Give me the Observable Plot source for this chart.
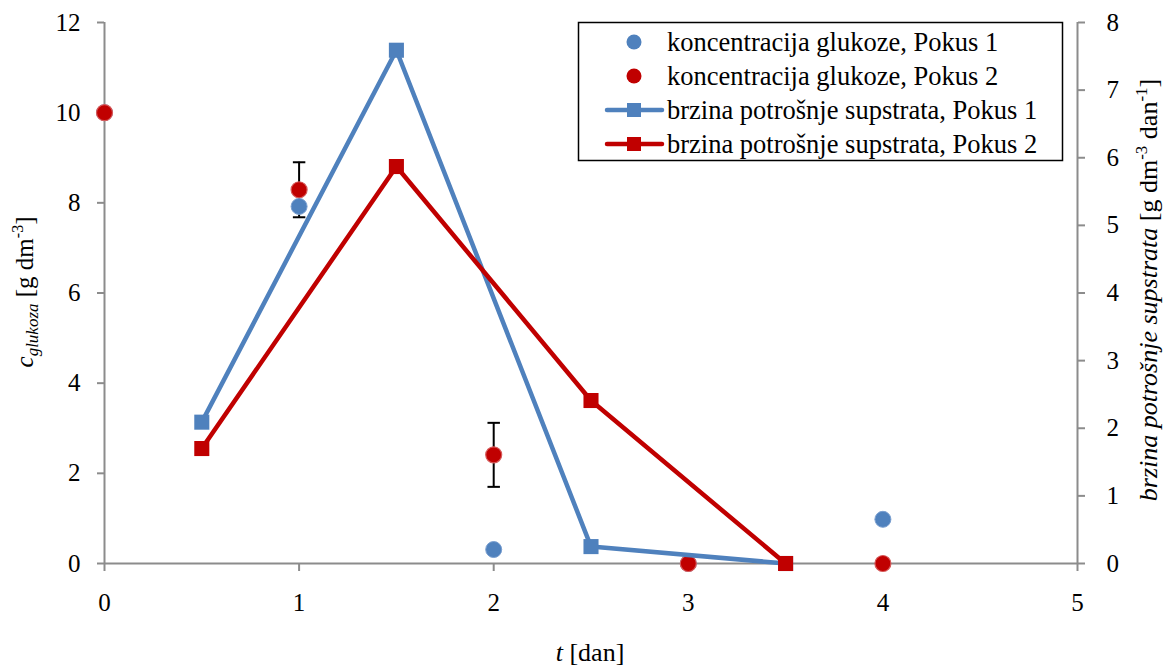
<!DOCTYPE html>
<html>
<head>
<meta charset="utf-8">
<script src="https://cdn.jsdelivr.net/npm/d3@7"></script>
<script src="https://cdn.jsdelivr.net/npm/@observablehq/plot@0.6"></script>
<style>
  html, body { margin: 0; padding: 0; background: #fff; }
  #chart { width: 1169px; height: 668px; }
  #chart svg, #chart svg text { font-family: "Liberation Serif", "DejaVu Serif", serif !important; }
</style>
</head>
<body>
<div id="chart"></div>
<script>
// ---- data ----
const days = [0, 1, 2, 3, 4];
const gluc1 = [10, 7.92, 0.31, 0, 0.98];
const gluc2 = [10, 8.29, 2.41, 0, 0];
const gluc2Err = [0, 0.61, 0.71, 0, 0];
const rateDays = [0.5, 1.5, 2.5, 3.5];
const rate1 = [2.09, 7.59, 0.25, 0];
const rate2 = [1.70, 5.87, 2.41, 0];
const xTicks = [0, 1, 2, 3, 4, 5];
const yLeftTicks = [0, 2, 4, 6, 8, 10, 12];
const yRightTicks = [0, 1, 2, 3, 4, 5, 6, 7, 8];
const seriesNames = [
  "koncentracija glukoze, Pokus 1",
  "koncentracija glukoze, Pokus 2",
  "brzina potrošnje supstrata, Pokus 1",
  "brzina potrošnje supstrata, Pokus 2"
];

const BLUE = "#4f81bd";
const RED = "#c00000";
const AXIS = "#8c8c8c";
const FONT = "Liberation Serif, DejaVu Serif, serif";
const leftMax = 12, rightMax = 8, k = leftMax / rightMax;

const g1 = days.map((d, i) => ({x: d, y: gluc1[i]}));
const g2 = days.map((d, i) => ({x: d, y: gluc2[i], e: gluc2Err[i]}));
const r1 = rateDays.map((d, i) => ({x: d, y: rate1[i] * k}));
const r2 = rateDays.map((d, i) => ({x: d, y: rate2[i] * k}));
const errs = g2.filter(d => d.e > 0);
const capHalf = 0.032;

const axisCommon = {stroke: AXIS, strokeWidth: 2, label: null, fontSize: 25, fill: "#000", fontFamily: FONT};

const plot = Plot.plot({
  width: 1169,
  height: 668,
  marginLeft: 104,
  marginRight: 92,
  marginTop: 22,
  marginBottom: 105,
  style: {fontFamily: FONT, fontSize: "25px", color: "#000", background: "#fff"},
  x: {domain: [0, 5]},
  y: {domain: [0, leftMax]},
  marks: [
    Plot.axisX({...axisCommon, ticks: xTicks, tickFormat: d => String(d), tickSize: 8, tickPadding: 22}),
    Plot.axisY({...axisCommon, anchor: "left", ticks: yLeftTicks, tickFormat: d => String(d), tickSize: 7, tickPadding: 17}),
    Plot.axisY({...axisCommon, anchor: "right", ticks: yRightTicks.map(v => v * k), tickFormat: d => String(Math.round(d / k)), tickSize: 7, tickPadding: 22}),
    Plot.ruleX([0, 5], {stroke: AXIS, strokeWidth: 2}),
    Plot.ruleY([0], {stroke: AXIS, strokeWidth: 2}),
    // error bars
    Plot.ruleX(errs, {x: "x", y1: d => d.y - d.e, y2: d => d.y + d.e, stroke: "#000", strokeWidth: 2}),
    Plot.link(errs, {x1: d => d.x - capHalf, x2: d => d.x + capHalf, y1: d => d.y + d.e, y2: d => d.y + d.e, stroke: "#000", strokeWidth: 2}),
    Plot.link(errs, {x1: d => d.x - capHalf, x2: d => d.x + capHalf, y1: d => d.y - d.e, y2: d => d.y - d.e, stroke: "#000", strokeWidth: 2}),
    // glucose points
    Plot.dot(g1, {x: "x", y: "y", r: 8, fill: BLUE, stroke: "#7a9fd0", strokeWidth: 1}),
    Plot.dot(g2, {x: "x", y: "y", r: 8, fill: RED, stroke: "#d65a5a", strokeWidth: 1.2}),
    // rate lines
    Plot.line(r1, {x: "x", y: "y", stroke: BLUE, strokeWidth: 4.5}),
    Plot.dot(r1, {x: "x", y: "y", symbol: "square", r: 8.5, fill: BLUE, stroke: "none"}),
    Plot.line(r2, {x: "x", y: "y", stroke: RED, strokeWidth: 4.5}),
    Plot.dot(r2, {x: "x", y: "y", symbol: "square", r: 8.5, fill: RED, stroke: "none"})
  ]
});
document.getElementById("chart").appendChild(plot);

// ---- axis titles & legend ----
const svg = d3.select(plot);

// left title
const lt = svg.append("text")
  .attr("transform", "translate(33,292) rotate(-90)")
  .attr("text-anchor", "middle")
  .attr("font-family", FONT).attr("font-size", 25).attr("fill", "#000");
lt.append("tspan").attr("font-style", "italic").text("c");
lt.append("tspan").attr("font-style", "italic").attr("font-size", 17).attr("dy", 5).text("glukoza");
lt.append("tspan").attr("dy", -5).text(" [g dm");
lt.append("tspan").attr("font-size", 16).attr("dy", -10).text("-3");
lt.append("tspan").attr("dy", 10).text("]");

// right title
const rt = svg.append("text")
  .attr("transform", "translate(1157,290) rotate(-90)")
  .attr("text-anchor", "middle")
  .attr("font-family", FONT).attr("font-size", 26).attr("fill", "#000");
rt.append("tspan").attr("font-style", "italic").text("brzina potrošnje supstrata");
rt.append("tspan").text(" [g dm");
rt.append("tspan").attr("font-size", 17).attr("dy", -10).text("-3");
rt.append("tspan").attr("dy", 10).text(" dan");
rt.append("tspan").attr("font-size", 17).attr("dy", -10).text("-1");
rt.append("tspan").attr("dy", 10).text("]");

// bottom title
const bt = svg.append("text")
  .attr("x", 590).attr("y", 661)
  .attr("text-anchor", "middle")
  .attr("font-family", FONT).attr("font-size", 26).attr("fill", "#000");
bt.append("tspan").attr("font-style", "italic").text("t");
bt.append("tspan").text(" [dan]");

// legend
const lg = svg.append("g");
lg.append("rect").attr("x", 578.5).attr("y", 22.5).attr("width", 484).attr("height", 138)
  .attr("fill", "#fff").attr("stroke", "#000").attr("stroke-width", 1.5);
const rowsY = [42, 76, 110, 144];
const colors = [BLUE, RED, BLUE, RED];
seriesNames.forEach((name, i) => {
  const y = rowsY[i];
  if (i < 2) {
    lg.append("circle").attr("cx", 634).attr("cy", y).attr("r", 7.5).attr("fill", colors[i]);
  } else {
    lg.append("line").attr("x1", 607).attr("x2", 662).attr("y1", y).attr("y2", y)
      .attr("stroke", colors[i]).attr("stroke-width", 4.5).attr("stroke-linecap", "round");
    lg.append("rect").attr("x", 627).attr("y", y - 7).attr("width", 14).attr("height", 14).attr("fill", colors[i]);
  }
  lg.append("text").attr("x", 667).attr("y", y).attr("dy", "0.35em")
    .attr("text-anchor", "start")
    .attr("font-family", FONT).attr("font-size", 26.5).attr("fill", "#000").text(name);
});
</script>
</body>
</html>
